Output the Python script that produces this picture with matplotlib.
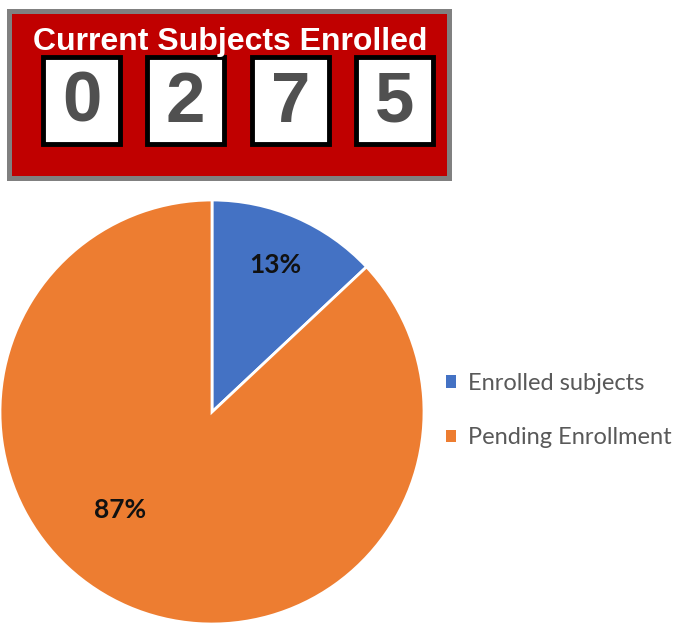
import matplotlib
matplotlib.use("Agg")
import matplotlib.pyplot as plt
from matplotlib.patches import Rectangle, Patch

# Data
title = "Current Subjects Enrolled"
enrolled_count = 275
digits = list(f"{enrolled_count:04d}")
categories = ["Enrolled subjects", "Pending Enrollment"]
shares = [13, 87]
pct_labels = ["13%", "87%"]
colors = ["#4472C4", "#ED7D31"]

W, H = 677, 626
fig = plt.figure(figsize=(W / 100, H / 100), dpi=100)
fig.patch.set_facecolor("white")

# Banner axes in pixel coordinates
bx = fig.add_axes([0, 0, 1, 1])
bx.set_xlim(0, W)
bx.set_ylim(H, 0)
bx.axis("off")
bx.add_patch(Rectangle((7, 9), 445, 172, facecolor="#808080", edgecolor="none"))
bx.add_patch(Rectangle((12, 14), 435, 162, facecolor="#C00000", edgecolor="none"))
bx.text(230, 42, title, color="white", fontsize=23, fontweight="bold",
        family="Liberation Sans", ha="center", va="center")
box_x = [41, 145, 250, 354]
for x0, d in zip(box_x, digits):
    bx.add_patch(Rectangle((x0 + 2, 57), 77, 87, facecolor="white",
                           edgecolor="black", linewidth=3.5))
    bx.text(x0 + 40.5, 104, d, color="#505050", fontsize=51, fontweight="bold",
            family="Liberation Sans", ha="center", va="center")

# Pie axes
ax = fig.add_axes([0, 2 / H, 424 / W, 424 / H])
wedges, _ = ax.pie(shares, colors=colors, startangle=90, counterclock=False,
                   radius=1.0, wedgeprops=dict(edgecolor="white", linewidth=2))
ax.set_xlim(-1, 1)
ax.set_ylim(-1, 1)
ax.set_aspect("equal")
ax.text(0.30, 0.695, pct_labels[0], fontsize=19, fontweight="bold",
        family="Lato", color="#111111", ha="center", va="center")
ax.text(-0.434, -0.462, pct_labels[1], fontsize=19, fontweight="bold",
        family="Lato", color="#111111", ha="center", va="center")

handles = [Patch(facecolor=c, edgecolor="none") for c in colors]
leg = fig.legend(handles, categories, loc="upper left",
                 bbox_to_anchor=(446 / W, 1 - 373 / H), frameon=False,
                 borderaxespad=0, borderpad=0,
                 handlelength=0.42, handleheight=0.42, handletextpad=0.5,
                 labelspacing=1.4, prop={"family": "Lato", "size": 17})
for t in leg.get_texts():
    t.set_color("#595959")

fig.savefig("out.png", dpi=100)
